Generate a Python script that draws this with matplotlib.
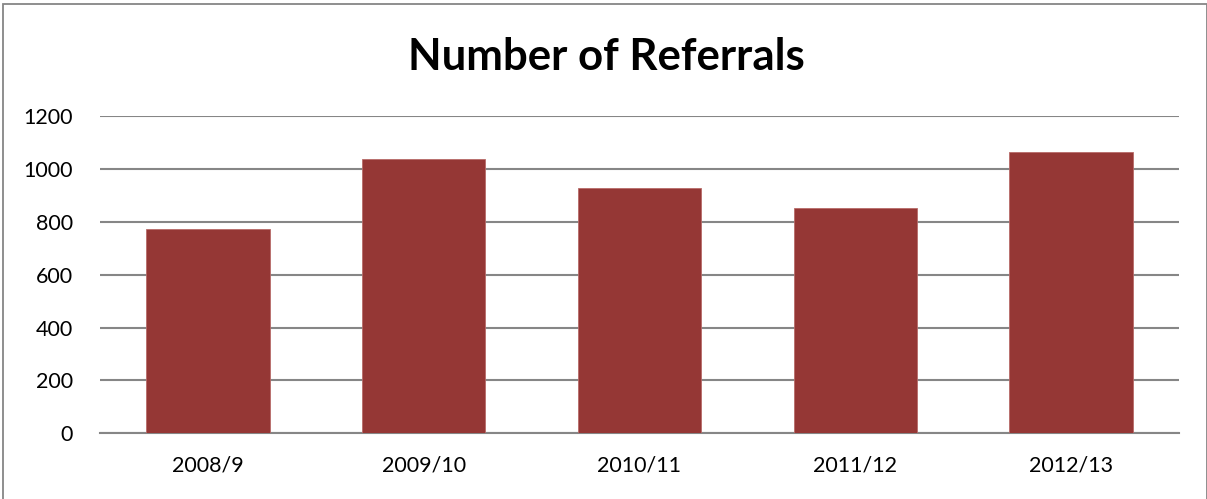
import matplotlib
matplotlib.use("Agg")
import matplotlib.pyplot as plt
from matplotlib.patches import Rectangle

categories = ["2008/9", "2009/10", "2010/11", "2011/12", "2012/13"]
referrals = [773, 1040, 930, 852, 1064]
yticks = [0, 200, 400, 600, 800, 1000, 1200]
title = "Number of Referrals"

W, H = 1207, 499
fig = plt.figure(figsize=(W / 100, H / 100), dpi=100)
fig.patch.set_facecolor("white")

# outer chart border
fig.add_artist(Rectangle((3 / W, -0.05), (1206.5 - 3) / W, 1.05 - 4.3 / H,
                         transform=fig.transFigure, fill=False,
                         edgecolor="#868686", linewidth=1.3))

left, right = 100 / W, 1179 / W
bottom, top = 1 - 433.3 / H, 1 - 116.3 / H
ax = fig.add_axes([left, bottom, right - left, top - bottom])

x = list(range(len(categories)))
ax.bar(x, referrals, width=0.571, color="#953735", edgecolor="#b86b69",
       linewidth=0.6, zorder=3)
ax.set_xlim(-0.5, len(categories) - 0.5)
ax.set_ylim(0, 1200)
ax.set_yticks(yticks)
ax.set_xticks(x)
ax.set_xticklabels(categories)
ax.yaxis.grid(True, color="#868686", linewidth=1.5, zorder=0)
ax.set_axisbelow(True)
for s in ["top", "right", "left"]:
    ax.spines[s].set_visible(False)
ax.spines["bottom"].set_color("#868686")
ax.spines["bottom"].set_linewidth(1.5)
ax.tick_params(axis="both", length=0, labelsize=15.5, colors="black")
ax.tick_params(axis="y", pad=19.5)
ax.tick_params(axis="x", pad=16)
for lab in ax.get_xticklabels() + ax.get_yticklabels():
    lab.set_family(["Lato", "DejaVu Sans"])

fig.text(606 / W, 1 - 70 / H, title, ha="center", va="baseline",
         fontsize=31.5, fontweight="bold", family=["Lato", "DejaVu Sans"])

fig.savefig("out.png", dpi=100)
